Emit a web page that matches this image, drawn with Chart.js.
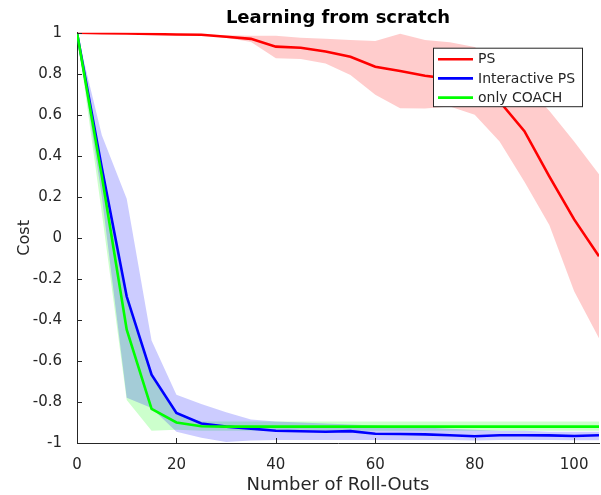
<!DOCTYPE html>
<html lang="en">
<head>
<meta charset="UTF-8">
<title>Learning from scratch</title>
<script src="https://cdn.jsdelivr.net/npm/chart.js"></script>
<style>
  body { margin: 0; background: #fff; }
  #wrap { width: 601px; height: 495px; }
</style>
</head>
<body>
<div id="wrap"><canvas id="costChart" width="601" height="495"></canvas></div>
<script>
// roll-outs (x axis)
var rollOuts = [0, 5, 10, 15, 20, 25, 30, 35, 40, 45, 50, 55, 60, 65, 70, 75, 80, 85, 90, 95, 100, 105];

// PS
var psMean  = [1, 0.998, 0.996, 0.994, 0.991, 0.99, 0.98, 0.97, 0.932, 0.927, 0.908, 0.883, 0.834, 0.813, 0.79, 0.775, 0.74, 0.665, 0.52, 0.30, 0.09, -0.09];
var psUpper = [1, 0.999, 0.998, 0.996, 0.994, 0.993, 0.988, 0.985, 0.985, 0.975, 0.97, 0.965, 0.96, 0.995, 0.965, 0.953, 0.93, 0.85, 0.75, 0.62, 0.47, 0.31];
var psLower = [1, 0.997, 0.994, 0.99, 0.988, 0.987, 0.975, 0.955, 0.875, 0.872, 0.85, 0.794, 0.697, 0.632, 0.63, 0.64, 0.60, 0.47, 0.274, 0.063, -0.26, -0.49];

// Interactive PS
var ipsMean  = [1, 0.34, -0.286, -0.667, -0.854, -0.905, -0.92, -0.93, -0.94, -0.943, -0.945, -0.942, -0.955, -0.956, -0.958, -0.962, -0.967, -0.962, -0.962, -0.963, -0.966, -0.962];
var ipsUpper = [1, 0.50, 0.19, -0.50, -0.765, -0.81, -0.85, -0.886, -0.895, -0.90, -0.905, -0.91, -0.915, -0.92, -0.925, -0.93, -0.935, -0.94, -0.94, -0.945, -0.945, -0.945];
var ipsLower = [1, 0.20, -0.78, -0.83, -0.945, -0.975, -0.995, -0.988, -0.985, -0.985, -0.985, -0.985, -0.985, -0.985, -0.985, -0.985, -0.988, -0.985, -0.985, -0.985, -0.987, -0.987];

// only COACH
var coachMean  = [1, 0.30, -0.448, -0.834, -0.90, -0.918, -0.92, -0.92, -0.92, -0.92, -0.92, -0.92, -0.92, -0.92, -0.92, -0.92, -0.92, -0.92, -0.92, -0.92, -0.92, -0.92];
var coachUpper = [1, 0.36, -0.29, -0.66, -0.86, -0.895, -0.895, -0.895, -0.895, -0.895, -0.895, -0.895, -0.895, -0.895, -0.895, -0.895, -0.895, -0.895, -0.895, -0.895, -0.895, -0.895];
var coachLower = [1, 0.12, -0.79, -0.94, -0.935, -0.94, -0.94, -0.94, -0.94, -0.94, -0.94, -0.94, -0.94, -0.94, -0.94, -0.94, -0.94, -0.94, -0.94, -0.94, -0.94, -0.94];

var seriesNames = ['PS', 'Interactive PS', 'only COACH'];

var FONT = 'DejaVu Sans';
var INK = '#262626';

function pts(ys) {
    return rollOuts.map(function(x, i) { return { x: x, y: ys[i] }; });
}

function bandSets(upper, lower, fillColor) {
    return [
        { data: pts(upper), borderColor: 'transparent', borderWidth: 0, pointRadius: 0, fill: false, order: 10 },
        { data: pts(lower), borderColor: 'transparent', borderWidth: 0, pointRadius: 0, fill: '-1', backgroundColor: fillColor, order: 10 }
    ];
}

function lineSet(label, ys, color, order) {
    return { label: label, data: pts(ys), borderColor: color, backgroundColor: color, borderWidth: 2.6, pointRadius: 0, fill: false, tension: 0, order: order };
}

var datasets = []
    .concat(bandSets(psUpper, psLower, 'rgba(255,0,0,0.2)'))
    .concat(bandSets(ipsUpper, ipsLower, 'rgba(0,0,255,0.2)'))
    .concat(bandSets(coachUpper, coachLower, 'rgba(0,255,0,0.2)'))
    .concat([
        lineSet(seriesNames[0], psMean, '#ff0000', 3),
        lineSet(seriesNames[1], ipsMean, '#0000ff', 2),
        lineSet(seriesNames[2], coachMean, '#00ff00', 1)
    ]);

// inward tick marks + boxed legend inside the axes
var matlabLook = {
    id: 'matlabLook',
    afterDraw: function(chart) {
        var ctx = chart.ctx, area = chart.chartArea;
        var xs = chart.scales.x, ys = chart.scales.y;
        ctx.save();
        ctx.strokeStyle = INK;
        ctx.lineWidth = 1;
        ctx.beginPath();
        xs.ticks.forEach(function(t) {
            var px = Math.round(xs.getPixelForValue(t.value)) + 0.5;
            ctx.moveTo(px, area.bottom);
            ctx.lineTo(px, area.bottom - 5);
        });
        ys.ticks.forEach(function(t) {
            var py = Math.round(ys.getPixelForValue(t.value)) + 0.5;
            ctx.moveTo(area.left, py);
            ctx.lineTo(area.left + 5, py);
        });
        ctx.stroke();

        // legend
        var lines = chart.data.datasets.filter(function(d) { return d.label; });
        var bx = area.right - 166, by = area.top + 15.5, bw = 149, bh = 58.5;
        ctx.fillStyle = '#fff';
        ctx.fillRect(bx, by, bw, bh);
        ctx.strokeStyle = INK;
        ctx.strokeRect(bx + 0.5, by, bw, bh);
        ctx.font = '14px "' + FONT + '"';
        ctx.textBaseline = 'middle';
        lines.forEach(function(d, i) {
            var ry = by + 11 + i * 19.2;
            ctx.strokeStyle = d.borderColor;
            ctx.lineWidth = 2.6;
            ctx.beginPath();
            ctx.moveTo(bx + 5, ry);
            ctx.lineTo(bx + 40, ry);
            ctx.stroke();
            ctx.fillStyle = INK;
            ctx.fillText(d.label, bx + 45, ry + 0.5);
        });
        ctx.restore();
    }
};

new Chart(document.getElementById('costChart').getContext('2d'), {
    type: 'line',
    data: { datasets: datasets },
    options: {
        responsive: false,
        animation: false,
        events: [],
        layout: { padding: { left: 0, right: 2, top: 0, bottom: 0 } },
        plugins: {
            legend: { display: false },
            tooltip: { enabled: false },
            filler: { drawTime: 'beforeDatasetsDraw' },
            title: {
                display: true,
                text: 'Learning from scratch',
                fullSize: false,
                color: '#000',
                font: { family: FONT, size: 18, weight: 'bold' },
                padding: { top: 7.5, bottom: 3.6 }
            }
        },
        scales: {
            x: {
                type: 'linear',
                min: 0,
                max: 105,
                afterFit: function(s) { s.height = 52; },
                grid: { display: false },
                border: { display: true, color: INK, width: 1 },
                ticks: {
                    stepSize: 20,
                    includeBounds: false,
                    padding: 5,
                    color: INK,
                    font: { family: FONT, size: 15 }
                },
                title: {
                    display: true,
                    text: 'Number of Roll-Outs',
                    color: INK,
                    font: { family: FONT, size: 18, lineHeight: 1 },
                    padding: { top: 0, bottom: 1 }
                }
            },
            y: {
                type: 'linear',
                min: -1,
                max: 1,
                afterFit: function(s) { s.width = 77; },
                grid: { display: false },
                border: { display: true, color: INK, width: 1 },
                ticks: {
                    stepSize: 0.2,
                    includeBounds: false,
                    padding: 7,
                    color: INK,
                    font: { family: FONT, size: 15 },
                    callback: function(v) { return String(Number(v.toFixed(1))); }
                },
                title: {
                    display: true,
                    text: 'Cost',
                    color: INK,
                    font: { family: FONT, size: 16 },
                    padding: { top: 15, bottom: 0 }
                }
            }
        }
    },
    plugins: [matlabLook]
});
</script>
</body>
</html>
